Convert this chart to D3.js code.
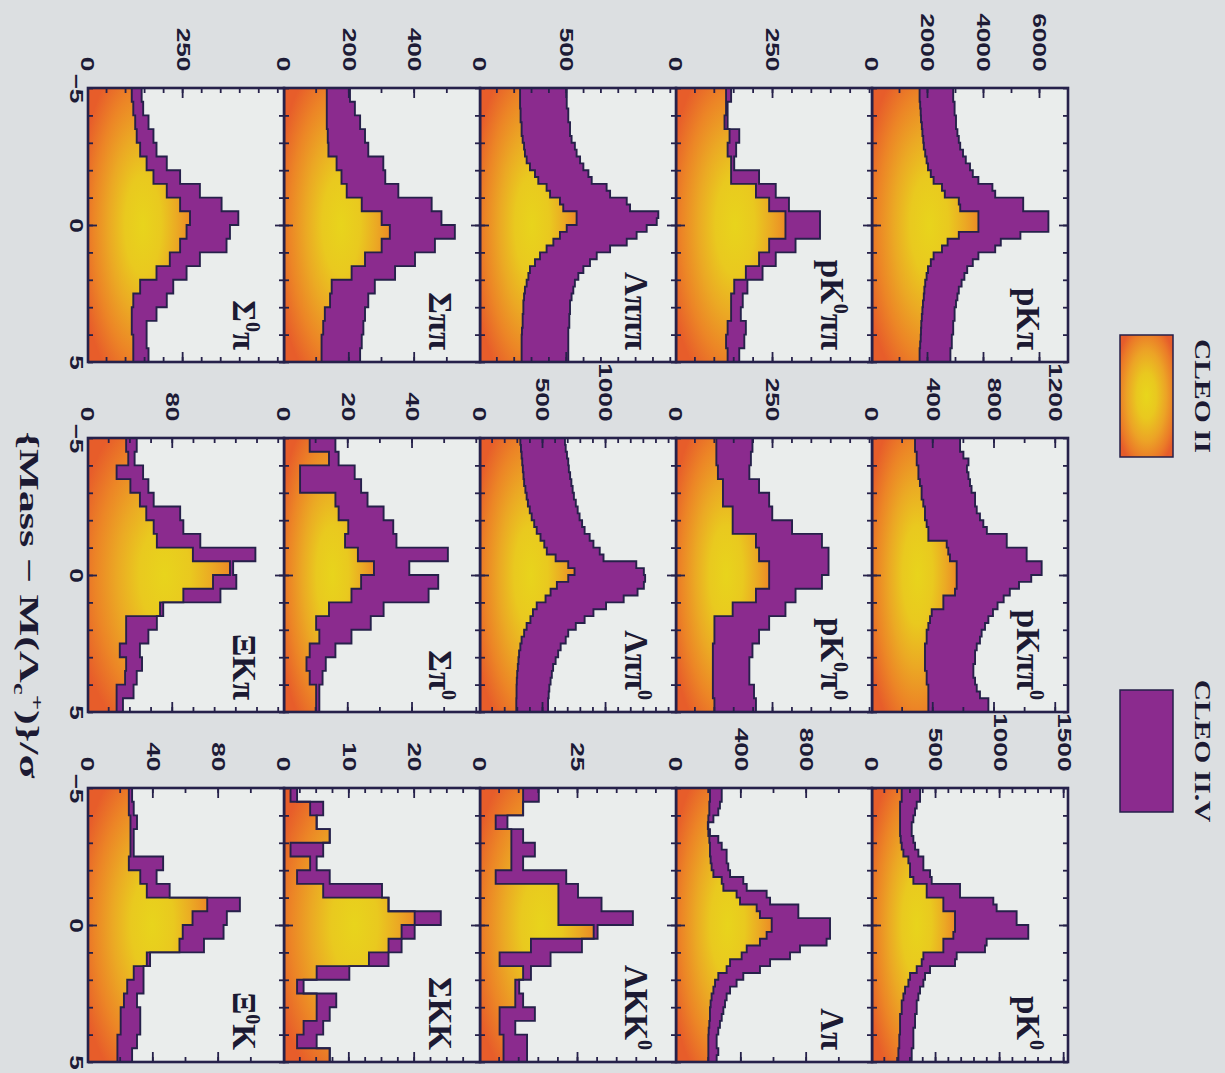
<!DOCTYPE html>
<html>
<head>
<meta charset="utf-8">
<script src="https://cdn.jsdelivr.net/npm/d3@7"></script>
<style>
  html, body { margin: 0; padding: 0; background: #dcdfe0; }
  svg { display: block; }
</style>
</head>
<body>
<svg id="fig" width="1225" height="1073"></svg>
<script>
// ---------------------------------------------------------------
// Lambda_c+ signal peaks in (Mass - M(Lambda_c+))/sigma, 15 decay modes.
// For every mode: CLEO II counts per bin, and CLEO II + CLEO II.V counts.
// ---------------------------------------------------------------

const channels = ["pKπ", "pKππ^0", "pK^0",
                  "pK^0ππ", "pK^0π^0", "Λπ",
                  "Λπππ", "Λππ^0", "ΛKK^0",
                  "Σππ", "Σπ^0", "ΣKK",
                  "Σ^0π", "ΞKπ", "Ξ^0K"];

const pKpi_II  = [1700,1700,1720,1740,1750,1780,1800,1830,1850,1900,1950,2000,2100,2200,2500,2600,3100,3150,3800,3800,
                  3800,3100,2700,2500,2200,2100,2000,1950,1900,1870,1850,1820,1800,1780,1760,1750,1740,1720,1700,1700];
const pKpi_all = [2900,2900,2950,2950,3000,3000,3050,3100,3150,3250,3350,3500,3600,3800,4300,4400,5400,5400,6300,6300,
                  6300,5300,4600,4400,3800,3600,3400,3300,3200,3100,3050,3000,2950,2950,2900,2900,2850,2850,2800,2800];

const pKpipi0_II  = [281,281,292,292,303,303,313,324,324,335,346,346,357,368,368,488,498,509,553,553,
                     553,553,542,466,466,390,379,368,357,357,346,346,346,346,357,357,368,368,368,368];
const pKpipi0_all = [575,575,597,630,620,630,640,650,673,673,684,705,727,750,880,880,1010,1010,1108,1108,
                     1040,960,900,860,820,790,760,738,716,705,684,673,673,662,662,673,684,705,760,760];

const pK0_II  = [232,232,219,219,219,219,219,224,232,245,284,297,297,323,427,427,557,557,648,648,
                 648,635,557,557,401,388,349,297,284,258,245,232,232,219,219,219,213,213,206,206];
const pK0_all = [375,375,349,336,323,310,310,323,336,362,401,401,453,466,687,687,947,973,1129,1129,
                 1220,1220,895,882,661,648,453,414,401,375,362,349,349,336,336,323,323,323,310,310];

const pK0pipi_II  = [129,129,125,138,133,142,142,206,240,282,282,240,214,180,150,142,142,133,129,133];
const pK0pipi_all = [142,133,133,163,155,150,214,257,291,371,371,308,257,223,184,172,167,180,176,163];

const pK0pi0_II  = [104,104,108,121,121,146,146,206,214,240,240,206,146,99,99,95,95,95,95,99];
const pK0pi0_all = [197,193,189,214,240,248,299,376,393,393,376,308,282,240,214,197,189,189,201,206];

const Lpi_II  = [208,208,204,204,198,195,198,204,208,208,212,218,229,280,290,371,392,494,514,586,
                 586,555,514,433,402,331,310,259,239,229,218,212,208,208,204,200,198,198,198,198];
const Lpi_all = [280,280,269,259,229,198,208,259,280,310,310,320,331,412,433,555,576,749,749,943,
                 943,943,922,759,698,576,514,412,371,331,310,300,290,280,269,259,249,249,259,249];

const Lpipipi_II  = [231,231,231,234,234,240,240,246,254,259,269,288,317,336,384,404,461,480,557,557,
                     500,461,423,384,346,317,288,279,269,259,254,250,250,246,246,242,240,240,240,240];
const Lpipipi_all = [500,500,500,509,509,519,519,528,547,557,577,596,625,644,730,750,846,865,1028,1019,
                     961,903,846,750,673,634,596,567,547,538,528,519,519,515,515,509,509,509,509,509];

const Lpipi0_II  = [320,325,330,335,340,345,350,360,370,380,395,410,430,450,480,510,530,600,700,750,
                    700,610,560,520,450,420,400,370,350,330,320,310,305,300,295,292,290,290,288,288];
const Lpipi0_all = [674,680,690,700,705,715,725,735,745,760,775,790,810,830,870,900,950,980,1240,1300,
                    1310,1300,1250,1140,1000,900,830,760,700,680,640,620,600,580,570,560,550,545,540,540];

const LKK0_II  = [11,11,4,8,8,8,4,20,20,20,29,13,5,11,9,9,5,5,6,6];
const LKK0_all = [15,11,7,11,14,11,22,25,31,39,30,26,18,13,10,11,14,9,12,12];

const Sigpipi_II  = [131,131,131,134,136,161,176,192,238,299,324,299,248,207,146,141,125,120,115,115];
const Sigpipi_all = [202,217,233,248,258,304,310,350,452,482,523,462,401,340,278,258,248,243,238,233];

const Sigpi0_II  = [8,14,5,5,16,17,20,19,23,28,24,21,14,10,11,8,7,8,10,10];
const Sigpi0_all = [16,17,22,24,26,31,34,35,51,39,48,45,31,27,21,16,13,12,11,11];

const SigKK_II  = [1,4,5,7,1,4,2,6,16,20,18,16,13,5,2,5,5,3,2,7];
const SigKK_all = [2,6,5,7,6,5,7,15,16,24,20,18,16,10,3,8,7,6,5,7];

const Sig0pi_II  = [115,119,124,128,137,154,172,207,242,268,259,242,215,180,137,119,115,115,119,119];
const Sig0pi_all = [141,145,159,172,180,207,242,294,351,395,373,364,294,259,224,207,180,154,154,159];

const XiKpi_II  = [36,38,27,40,49,55,62,65,99,134,118,90,68,36,36,30,36,35,27,27];
const XiKpi_all = [46,44,52,57,62,87,90,106,158,137,140,125,71,65,57,49,51,46,43,33];

const Xi0K_II  = [25,25,26,26,26,25,32,36,73,64,58,56,36,28,24,22,20,20,18,18];
const Xi0K_all = [27,28,30,28,28,46,42,50,93,85,83,71,38,34,34,30,32,32,30,27];

// y-axis extent, labelled ticks and minor tick step for each mode
const yMax        = [7000, 1280, 1530, 505, 505, 1200, 1130, 1555, 50, 600, 61, 30, 515, 185, 120];
const yTickLabels = [[0,2000,4000,6000], [0,400,800,1200], [0,500,1000,1500],
                     [0,250], [0,250], [0,400,800],
                     [0,500], [0,500,1000], [0,25],
                     [0,200,400], [0,20,40], [0,10,20],
                     [0,250], [0,80], [0,40,80]];
const yMinorStep  = [1000, 200, 100, 50, 50, 200, 100, 100, 5, 100, 10, 2.5, 50, 20, 20];

const massDomain  = [-5, 5];
const xTickLabels = [-5, 0, 5];
const legendLabels = ["CLEO II", "CLEO II.V"];

const cleo2    = [pKpi_II, pKpipi0_II, pK0_II, pK0pipi_II, pK0pi0_II, Lpi_II, Lpipipi_II, Lpipi0_II,
                  LKK0_II, Sigpipi_II, Sigpi0_II, SigKK_II, Sig0pi_II, XiKpi_II, Xi0K_II];
const cleo2All = [pKpi_all, pKpipi0_all, pK0_all, pK0pipi_all, pK0pi0_all, Lpi_all, Lpipipi_all, Lpipi0_all,
                  LKK0_all, Sigpipi_all, Sigpi0_all, SigKK_all, Sig0pi_all, XiKpi_all, Xi0K_all];

const panels = channels.map((name, i) => ({
  name, ymax: yMax[i], labels: yTickLabels[i], minor: yMinorStep[i],
  ii: cleo2[i], all: cleo2All[i]
}));

// ---------------------------------------------------------------
// Layout: the figure is laid out upright (1073 wide, 1225 tall) and
// then turned a quarter turn clockwise onto the page.
// ---------------------------------------------------------------
const W = 1225, H = 1073;
const colLeft = [88, 438, 788], panelW = 274;
const rowTop = [157, 353, 549, 745, 941], panelH = 196;

const INK = "#26214a";
const PURPLE = "#8b2b8e";
const PANEL_BG = "#eaedec";
const SERIF = "'Liberation Serif', 'DejaVu Serif', serif";
const SANS = "'Liberation Sans', 'DejaVu Sans', sans-serif";
const TICK_STRETCH = 1.38;

const svg = d3.select("#fig");
svg.append("rect").attr("width", W).attr("height", H).attr("fill", "#dcdfe1");

const defs = svg.append("defs");
function glowGradient(id, cy, r, stops) {
  const gr = defs.append("radialGradient").attr("id", id)
    .attr("cx", 0.5).attr("cy", cy).attr("r", r);
  stops.forEach(([o, c]) => gr.append("stop").attr("offset", o).attr("stop-color", c));
}
// yellow core fading to red-orange towards the tails and the baseline
glowGradient("glow", 0.46, 0.64,
  [[0, "#e8d41c"], [0.28, "#e9c91f"], [0.52, "#eba924"], [0.76, "#ec8526"], [1, "#e75d2a"]]);
glowGradient("glowKey", 0.5, 0.62,
  [[0, "#e8d61c"], [0.3, "#e9c81f"], [0.6, "#eca326"], [0.85, "#eb7a28"], [1, "#e65c2b"]]);

const fig = svg.append("g").attr("transform", `translate(${W},0) rotate(90)`);

// adds text with "^x" marking a raised character
function richText(textSel, str, supSize, lift) {
  const parts = str.split(/\^(.)/);
  let raised = false;
  parts.forEach((s, k) => {
    if (!s) return;
    if (k % 2 === 1) {
      textSel.append("tspan").attr("font-size", supSize).attr("dy", -lift).text(s);
      raised = true;
    } else {
      const t = textSel.append("tspan").text(s);
      if (raised) { t.attr("dy", lift); raised = false; }
    }
  });
}

function styleAxis(sel, width) {
  sel.select(".domain").remove();
  sel.selectAll("line").attr("stroke", INK).attr("stroke-width", width);
}

panels.forEach((p, i) => {
  const r = Math.floor(i / 3), c = i % 3;
  const x0 = colLeft[c], y0 = rowTop[r];
  const x = d3.scaleLinear().domain(massDomain).range([x0, x0 + panelW]);
  const y = d3.scaleLinear().domain([0, p.ymax]).range([y0 + panelH, y0]);
  const pg = fig.append("g").attr("class", "panel");

  pg.append("rect").attr("x", x0).attr("y", y0).attr("width", panelW).attr("height", panelH)
    .attr("fill", PANEL_BG);

  // step outline points: each bin contributes its two edges
  const n = p.ii.length, w = (massDomain[1] - massDomain[0]) / n;
  const steps = d3.range(n).flatMap(k => [[massDomain[0] + k * w, k], [massDomain[0] + (k + 1) * w, k]]);

  const baseArea = d3.area().x(d => x(d[0])).y0(y(0)).y1(d => y(p.ii[d[1]]));
  const bandArea = d3.area().x(d => x(d[0])).y0(d => y(p.ii[d[1]])).y1(d => y(p.all[d[1]]));
  const iiLine = d3.line().x(d => x(d[0])).y(d => y(p.ii[d[1]]));
  const allLine = d3.line().x(d => x(d[0])).y(d => y(p.all[d[1]]));

  pg.append("path").attr("d", baseArea(steps)).attr("fill", "url(#glow)");
  pg.append("path").attr("d", bandArea(steps)).attr("fill", PURPLE);
  pg.append("path").attr("d", iiLine(steps)).attr("fill", "none").attr("stroke", INK).attr("stroke-width", 1.9);
  pg.append("path").attr("d", allLine(steps)).attr("fill", "none").attr("stroke", INK).attr("stroke-width", 1.9);

  // inward ticks on all four sides
  const xMinor = d3.range(massDomain[0], massDomain[1] + 1, 1);
  const yMinor = d3.range(1, Math.ceil(p.ymax / p.minor)).map(k => +(k * p.minor).toFixed(3)).filter(v => v < p.ymax);
  const yMajor = p.labels.filter(v => v > 0);

  pg.append("g").attr("transform", `translate(0,${y0 + panelH})`)
    .call(d3.axisBottom(x).tickValues(xMinor).tickSize(-5).tickFormat(""))
    .call(s => styleAxis(s, 1.8));
  pg.append("g").attr("transform", `translate(0,${y0 + panelH})`)
    .call(d3.axisBottom(x).tickValues([0]).tickSize(-9).tickFormat(""))
    .call(s => styleAxis(s, 1.8));
  pg.append("g").attr("transform", `translate(0,${y0})`)
    .call(d3.axisTop(x).tickValues(xMinor).tickSize(-5).tickFormat(""))
    .call(s => styleAxis(s, 1.8));
  pg.append("g").attr("transform", `translate(0,${y0})`)
    .call(d3.axisTop(x).tickValues([0]).tickSize(-9).tickFormat(""))
    .call(s => styleAxis(s, 1.8));

  [[d3.axisLeft, x0], [d3.axisRight, x0 + panelW]].forEach(([axisFn, pos]) => {
    pg.append("g").attr("transform", `translate(${pos},0)`)
      .call(axisFn(y).tickValues(yMinor).tickSize(-5).tickFormat(""))
      .call(s => styleAxis(s, 1.8));
    pg.append("g").attr("transform", `translate(${pos},0)`)
      .call(axisFn(y).tickValues(yMajor).tickSize(-10).tickFormat(""))
      .call(s => styleAxis(s, 1.8));
  });

  // y tick labels
  const yl = pg.append("g").attr("transform", `translate(${x0},0)`)
    .call(d3.axisLeft(y).tickValues(p.labels).tickSize(0).tickPadding(0).tickFormat(d3.format("d")));
  yl.select(".domain").remove();
  yl.attr("font-size", 19).attr("font-family", SANS).attr("font-weight", "bold");
  yl.selectAll("text").attr("x", -12).attr("fill", "#1d1b36")
    .attr("transform", `scale(${TICK_STRETCH},1)`);

  // x tick labels under the bottom row
  if (r === rowTop.length - 1) {
    const xl = pg.append("g").attr("transform", `translate(0,${y0 + panelH})`)
      .call(d3.axisBottom(x).tickValues(xTickLabels).tickSize(0).tickPadding(5));
    xl.select(".domain").remove();
    xl.attr("font-size", 19).attr("font-family", SANS).attr("font-weight", "bold");
    xl.selectAll("text").attr("fill", "#1d1b36")
      .attr("transform", `scale(${TICK_STRETCH},1)`);
  }

  // frame
  pg.append("rect").attr("x", x0).attr("y", y0).attr("width", panelW).attr("height", panelH)
    .attr("fill", "none").attr("stroke", INK).attr("stroke-width", 2.6);

  // decay mode name
  const t = pg.append("text").attr("x", x0 + panelW - 12).attr("y", y0 + 51)
    .attr("text-anchor", "end").attr("font-family", SERIF).attr("font-weight", "bold")
    .attr("font-size", 33).attr("fill", "#1c1a33");
  richText(t, p.name, 20, 13);
});

// legend
const keyFills = ["url(#glowKey)", PURPLE];
const keyLeft = [335, 690];
legendLabels.forEach((lab, k) => {
  fig.append("rect").attr("x", keyLeft[k]).attr("y", 52).attr("width", 122).attr("height", 53)
    .attr("fill", keyFills[k]).attr("stroke", INK).attr("stroke-width", 1.5);
  const cx = keyLeft[k] + 61;
  fig.append("text").attr("transform", `translate(${cx},30) scale(1.23,1)`)
    .attr("text-anchor", "middle").attr("font-family", SERIF).attr("font-weight", "bold")
    .attr("font-size", 24).attr("fill", "#1c1a33").text(lab);
});

// mass axis title
const title = fig.append("text").attr("transform", "translate(605,1205) scale(1.58,1)")
  .attr("text-anchor", "middle").attr("font-family", SERIF).attr("font-weight", "bold")
  .attr("font-size", 28).attr("fill", "#1c1a33");
title.append("tspan").text("{Mass − M(Λ");
title.append("tspan").attr("font-size", 17).attr("dy", 6).text("c");
title.append("tspan").attr("font-size", 17).attr("dy", -17).text("+");
title.append("tspan").attr("dy", 11).text(")}/σ");
</script>
</body>
</html>
